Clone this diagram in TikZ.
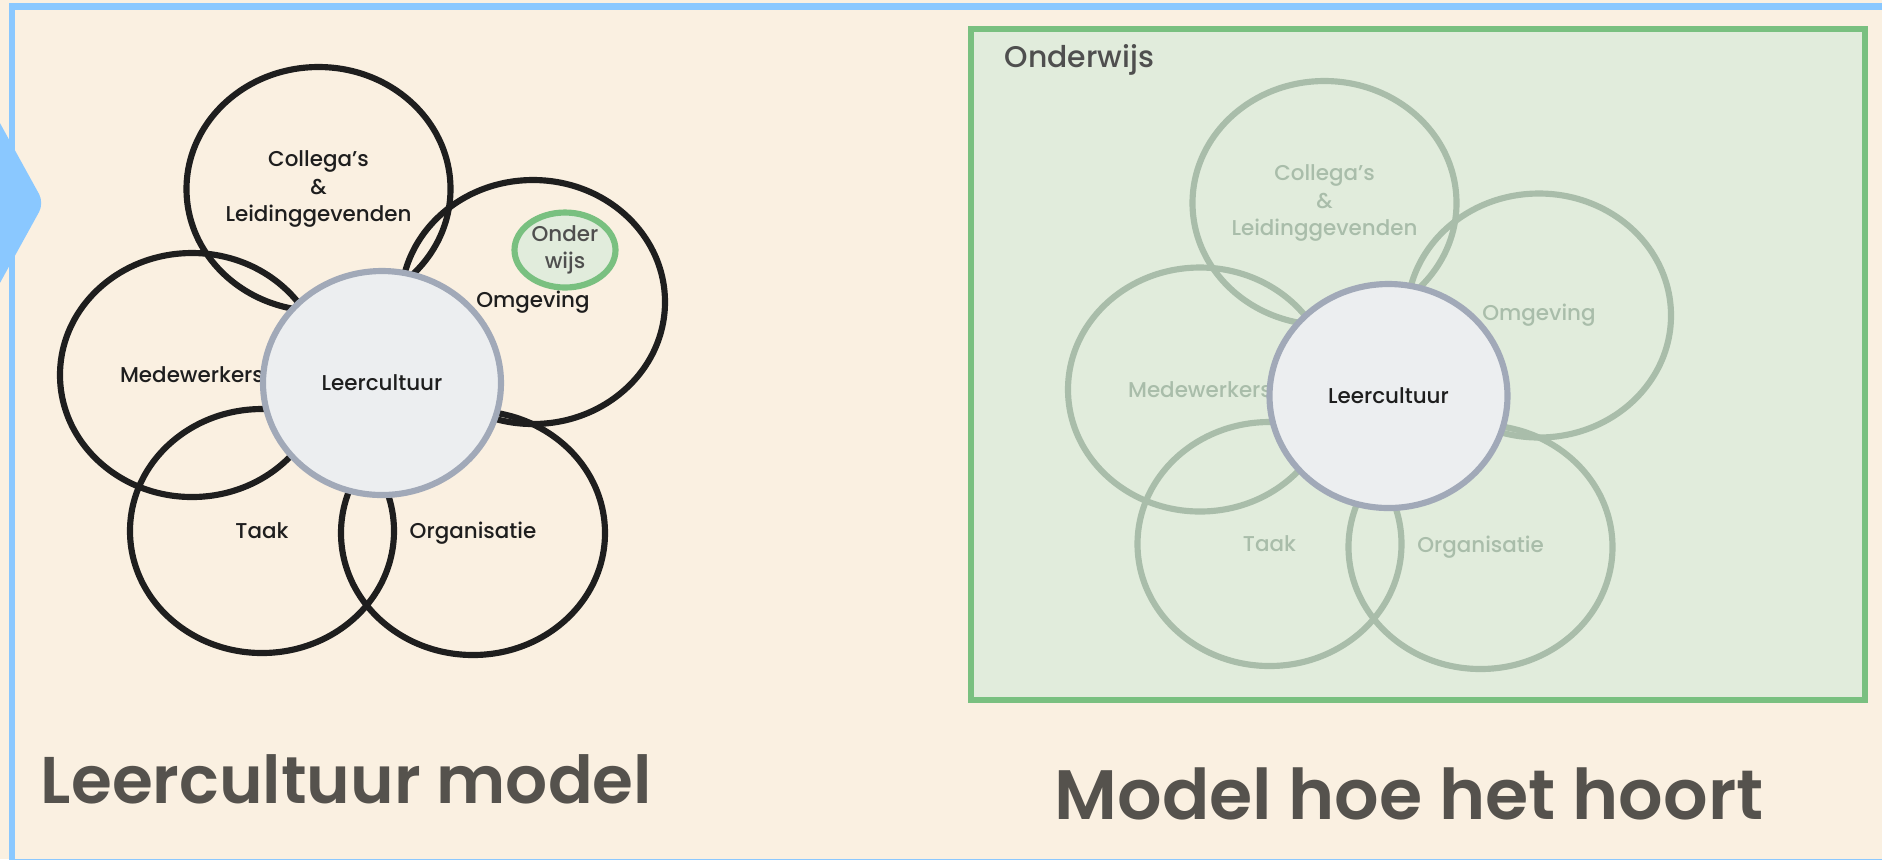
\documentclass[tikz,border=0pt]{standalone}
\usepackage{fontspec}
\setmainfont{Poppins}
\IfFontExistsTF{Poppins Medium}{\newfontfamily\medfont[Ligatures=TeX]{Poppins Medium}}{\newfontfamily\medfont[Ligatures=TeX]{Poppins}}
\IfFontExistsTF{Poppins SemiBold}{\newfontfamily\semifont[Ligatures=TeX]{Poppins SemiBold}}{\newfontfamily\semifont[Ligatures=TeX]{Poppins}}
\usetikzlibrary{shapes.geometric}

\definecolor{paper}{HTML}{FAF0E1}
\definecolor{frameblue}{HTML}{8AC8FF}
\definecolor{ink}{HTML}{1E1E1E}
\definecolor{heartfill}{HTML}{ECEEF0}
\definecolor{heartdraw}{HTML}{A1A9B8}
\definecolor{leafgreen}{HTML}{79C080}
\definecolor{leaffill}{HTML}{E1ECDC}
\definecolor{fade}{HTML}{A9BDAA}
\definecolor{titlegray}{HTML}{55524D}
\definecolor{darktext}{HTML}{4F4F4F}

\newcommand\lbl{\medfont\fontsize{6.1}{7.7}\selectfont}

\tikzset{
  petal/.style={ellipse, draw=ink, line width=1.75pt, minimum width=2.64cm,
    minimum height=2.44cm, inner sep=0pt, align=center, font=\lbl, text=ink},
  fadedpetal/.style={petal, draw=fade, text=fade},
  heart/.style={ellipse, draw=heartdraw, fill=heartfill, line width=1.75pt,
    minimum width=2.38cm, minimum height=2.24cm, inner sep=0pt, font=\lbl, text=ink},
  bigtitle/.style={anchor=base, inner sep=0pt, text=titlegray}
}

\begin{document}
\begin{tikzpicture}
            \useasboundingbox (0,0) rectangle (18.82,-8.59);
            \fill[paper] (0,0) rectangle (18.82,-8.59);

            % Frame
            \draw[frameblue, line width=1.8pt] (0.12,-0.065) rectangle (19.1,-8.62);
            \fill[frameblue, rounded corners=0.1cm] (-0.1,-1.05) -- (0.44,-2.03) -- (-0.1,-3.01) -- cycle;

            % Left model
            \node[petal] (col1) at (3.185,-1.89) {Collega's\\\&\\Leidinggevenden};
            \node[petal] (omg1) at (5.33,-3.02) {Omgeving};
            \node[petal] (med1) at (1.92,-3.75) {Medewerkers};
            \node[petal] (taak1) at (2.62,-5.31) {Taak};
            \node[petal] (org1) at (4.73,-5.33) {Organisatie};
            \node[heart] (leer1) at (3.82,-3.83) {Leercultuur};
            \node[ellipse, draw=leafgreen, fill=leaffill, line width=1.75pt, minimum width=1.01cm,
              minimum height=0.75cm, inner sep=0pt, align=center, font=\lbl, text=darktext]
              (ond) at (5.65,-2.50) {Onder\\wijs};

            % Right model
            \draw[leafgreen, fill=leaffill, line width=1.75pt] (9.71,-0.29) rectangle (18.65,-7.00);
            \node[anchor=west, inner sep=0pt, font=\medfont\fontsize{8.5}{9}\selectfont, text=darktext]
              (ondlabel) at (10.04,-0.60) {Onderwijs};
            \node[fadedpetal] (col2) at (13.245,-2.03) {Collega's\\\&\\Leidinggevenden};
            \node[fadedpetal] (omg2) at (15.39,-3.155) {Omgeving};
            \node[fadedpetal] (med2) at (12.0,-3.895) {Medewerkers};
            \node[fadedpetal] (taak2) at (12.695,-5.44) {Taak};
            \node[fadedpetal] (org2) at (14.805,-5.47) {Organisatie};
            \node[heart] (leer2) at (13.885,-3.96) {Leercultuur};

            % Titles
            \node[bigtitle, font=\semifont\fontsize{18.8}{21}\selectfont] (t1) at (3.465,-8.03) {Leercultuur model};
            \node[bigtitle, font=\semifont\fontsize{19.9}{22}\selectfont] (t2) at (14.09,-8.19) {Model hoe het hoort};
\end{tikzpicture}
\end{document}
